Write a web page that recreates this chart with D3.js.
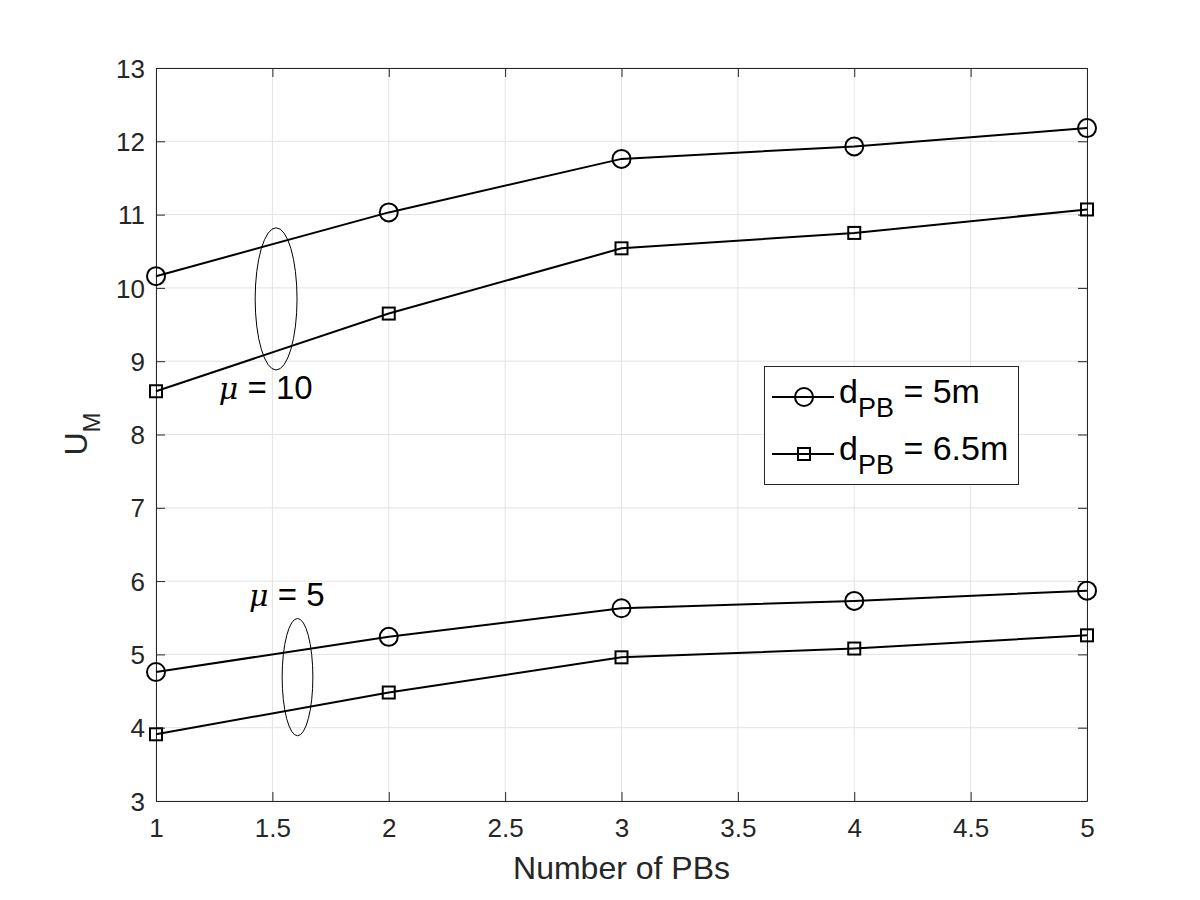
<!DOCTYPE html>
<html><head><meta charset="utf-8">
<script src="https://cdn.jsdelivr.net/npm/d3@7"></script>
<style>body{margin:0;background:#fff}svg{font-family:"Liberation Sans",Arial,sans-serif}</style>
</head><body><svg id="c" width="1200" height="900"></svg>
<script>
const xValues = [1, 2, 3, 4, 5];
const circ10 = [10.16, 11.03, 11.76, 11.93, 12.18];
const sq10 = [8.59, 9.65, 10.54, 10.75, 11.07];
const circ5 = [4.76, 5.24, 5.63, 5.73, 5.87];
const sq5 = [3.91, 4.48, 4.96, 5.08, 5.26];
const xTicks = [1, 1.5, 2, 2.5, 3, 3.5, 4, 4.5, 5];
const yTicks = [3, 4, 5, 6, 7, 8, 9, 10, 11, 12, 13];
const legendLabels = ["5m", "6.5m"];

const svg = d3.select("#c");
const L = 156, R = 1087, T = 68, B = 801;
const x = d3.scaleLinear().domain([1, 5]).range([L, R]);
const y = d3.scaleLinear().domain([3, 13]).range([B, T]);
const axisColor = "#262626";
const FF = "Liberation Sans, Arial, sans-serif";

// grid
const g = svg.append("g");
g.selectAll(".gx").data(xTicks).enter().append("line")
  .attr("x1", d => x(d)).attr("x2", d => x(d)).attr("y1", T).attr("y2", B)
  .attr("stroke", "#e3e3e3").attr("stroke-width", 1);
g.selectAll(".gy").data(yTicks).enter().append("line")
  .attr("y1", d => y(d)).attr("y2", d => y(d)).attr("x1", L).attr("x2", R)
  .attr("stroke", "#e3e3e3").attr("stroke-width", 1);

// axes
const tl = 9;
const xa = svg.append("g").attr("transform", `translate(0,${B})`)
  .call(d3.axisBottom(x).tickValues(xTicks).tickSizeInner(-tl).tickSizeOuter(0).tickPadding(18).tickFormat(d3.format("")));
const xt = svg.append("g").attr("transform", `translate(0,${T})`)
  .call(d3.axisTop(x).tickValues(xTicks).tickSizeInner(-tl).tickSizeOuter(0).tickFormat(""));
const ya = svg.append("g").attr("transform", `translate(${L},0)`)
  .call(d3.axisLeft(y).tickValues(yTicks).tickSizeInner(-tl).tickSizeOuter(0).tickPadding(11));
const yr = svg.append("g").attr("transform", `translate(${R},0)`)
  .call(d3.axisRight(y).tickValues(yTicks).tickSizeInner(-tl).tickSizeOuter(0).tickFormat(""));
[xa, xt, ya, yr].forEach(a => {
  a.attr("font-size", 26).attr("font-family", FF);
  a.select(".domain").attr("stroke", axisColor).attr("stroke-width", 1);
  a.selectAll(".tick line").attr("stroke", axisColor);
  a.selectAll("text").attr("fill", axisColor);
});
xa.selectAll("text").attr("dy", "0.71em");
ya.selectAll("text").attr("dy", "0.35em");

// lines
const line = d3.line().x((d, i) => x(xValues[i])).y(d => y(d));
const series = [
  {v: circ10, m: "o"}, {v: sq10, m: "s"}, {v: circ5, m: "o"}, {v: sq5, m: "s"}
];
function marker(sel, type, cx, cy) {
  if (type === "o") sel.append("circle").attr("cx", cx).attr("cy", cy).attr("r", 9)
    .attr("fill", "none").attr("stroke", "#000").attr("stroke-width", 2);
  else sel.append("rect").attr("x", cx - 6).attr("y", cy - 6).attr("width", 12).attr("height", 12)
    .attr("fill", "none").attr("stroke", "#000").attr("stroke-width", 2);
}
series.forEach(s => {
  svg.append("path").attr("d", line(s.v)).attr("fill", "none").attr("stroke", "#000").attr("stroke-width", 2);
  const mg = svg.append("g");
  s.v.forEach((v, i) => marker(mg, s.m, x(xValues[i]), y(v)));
});

// ellipses
const ellipses = [{cx: 1.516, cy: 9.85, rx: 0.09, ry: 0.97}, {cx: 1.608, cy: 4.69, rx: 0.066, ry: 0.8}];
ellipses.forEach(e => {
  svg.append("ellipse").attr("cx", x(e.cx)).attr("cy", y(e.cy))
    .attr("rx", x(e.cx + e.rx) - x(e.cx)).attr("ry", y(e.cy) - y(e.cy + e.ry))
    .attr("fill", "none").attr("stroke", "#000").attr("stroke-width", 1);
});

// annotations
function muLabel(px, py, val) {
  const t = svg.append("text").attr("x", px).attr("y", py).attr("font-size", 33).attr("fill", "#000").attr("font-family", FF);
  t.append("tspan").attr("font-style", "italic").attr("font-family", "DejaVu Serif, Liberation Serif, serif").attr("font-size", 30).text("μ");
  t.append("tspan").text(" = " + val);
}
muLabel(x(1.27), y(8.49), "10");
muLabel(x(1.40), y(5.66), "5");

// legend
const lg = svg.append("g");
lg.append("rect").attr("x", 764.5).attr("y", 366.5).attr("width", 254).attr("height", 118)
  .attr("fill", "#fff").attr("stroke", axisColor).attr("stroke-width", 1);
legendLabels.forEach((lab, i) => {
  const cy = 397 + i * 57;
  lg.append("line").attr("x1", 772).attr("x2", 834).attr("y1", cy).attr("y2", cy).attr("stroke", "#000").attr("stroke-width", 2);
  if (i === 0) lg.append("circle").attr("cx", 804).attr("cy", cy).attr("r", 9).attr("fill", "none").attr("stroke", "#000").attr("stroke-width", 2);
  else lg.append("rect").attr("x", 798).attr("y", cy - 6).attr("width", 12).attr("height", 12).attr("fill", "none").attr("stroke", "#000").attr("stroke-width", 2);
  const t = lg.append("text").attr("x", 839).attr("y", cy + 6).attr("font-size", 34).attr("fill", "#000").attr("font-family", FF);
  t.append("tspan").text("d");
  t.append("tspan").attr("font-size", 27).attr("dy", 14).text("PB");
  t.append("tspan").attr("dy", -14).text(" = " + lab);
});

// axis labels
svg.append("text").attr("x", (L + R) / 2).attr("y", 879).attr("text-anchor", "middle")
  .attr("font-size", 32).attr("fill", axisColor).attr("font-family", FF).text("Number of PBs");
const yl = svg.append("text").attr("transform", "translate(87,434) rotate(-90)").attr("text-anchor", "middle")
  .attr("font-size", 32).attr("fill", axisColor).attr("font-family", FF);
yl.append("tspan").text("U");
yl.append("tspan").attr("font-size", 24).attr("dy", 13).text("M");
</script></body></html>
